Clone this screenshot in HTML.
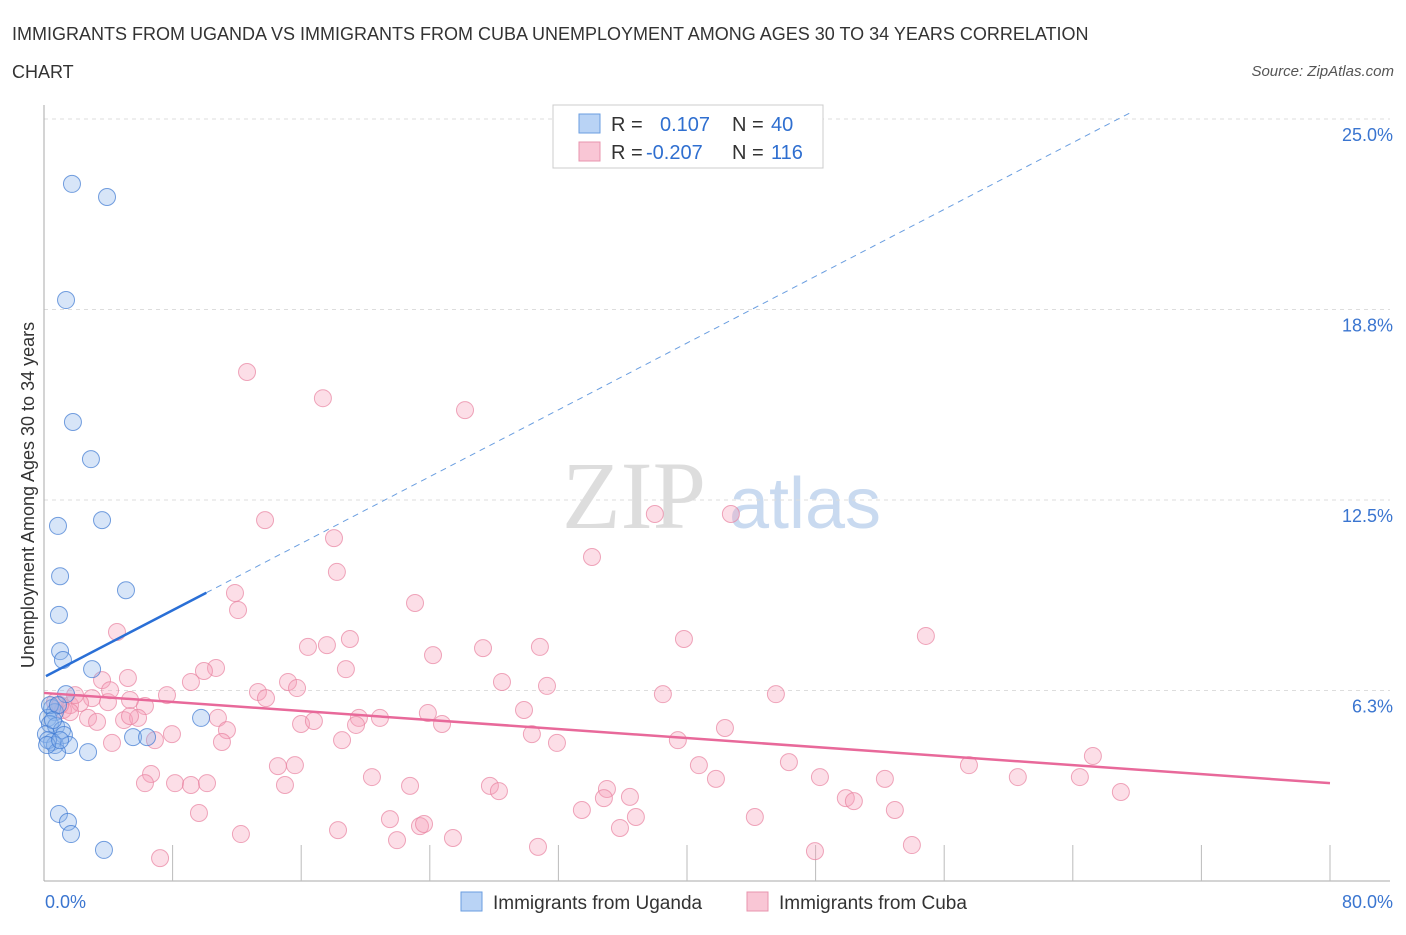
<!DOCTYPE html>
<html><head><meta charset="utf-8"><style>
body{margin:0;background:#fff;font-family:"Liberation Sans",sans-serif}
</style></head><body>
<svg id="chart" width="1406" height="930" font-family="Liberation Sans, sans-serif">
<text x="12" y="40" font-size="18" fill="#333">IMMIGRANTS FROM UGANDA VS IMMIGRANTS FROM CUBA UNEMPLOYMENT AMONG AGES 30 TO 34 YEARS CORRELATION</text>
<text x="12" y="78" font-size="18" fill="#333">CHART</text>
<text x="1394" y="76" font-size="15" fill="#555" font-style="italic" text-anchor="end">Source: ZipAtlas.com</text>
<text x="634" y="528" font-size="96" fill="#ddd" font-family="Liberation Serif, serif" text-anchor="middle">ZIP</text>
<text x="805" y="528" font-size="72" fill="#c9daf0" text-anchor="middle">atlas</text>
<text transform="translate(34,495) rotate(-90)" font-size="18" fill="#333" text-anchor="middle">Unemployment Among Ages 30 to 34 years</text>
<g id="grid"></g><g id="axes"></g><g id="pts"></g><g id="lines"></g>
<g>
<rect x="553" y="105" width="270" height="63" fill="#fff" stroke="#ccc"/>
<rect x="579" y="114" width="21" height="19" fill="#b9d3f5" stroke="#6a9ee0"/>
<rect x="579" y="142" width="21" height="19" fill="#f9c6d5" stroke="#e894ae"/>
<text y="131" font-size="20" fill="#333"><tspan x="611">R = </tspan><tspan x="660" fill="#2f6fd0">0.107</tspan><tspan x="732">N = </tspan><tspan x="771" fill="#2f6fd0">40</tspan></text>
<text y="159" font-size="20" fill="#333"><tspan x="611">R = </tspan><tspan x="646" fill="#2f6fd0">-0.207</tspan><tspan x="732">N = </tspan><tspan x="771" fill="#2f6fd0">116</tspan></text>
</g>
<g>
<rect x="461" y="892" width="21" height="19" fill="#b9d3f5" stroke="#6a9ee0"/>
<text x="493" y="909" font-size="19" fill="#333">Immigrants from Uganda</text>
<rect x="747" y="892" width="21" height="19" fill="#f9c6d5" stroke="#e894ae"/>
<text x="779" y="909" font-size="19" fill="#333">Immigrants from Cuba</text>
</g>
</svg>
<script>
const xTicks=[0,8,16,24,32,40,48,56,64,72,80];
const yTicks=[6.25,12.5,18.75,25];
const yTickLabels=["6.3%","12.5%","18.8%","25.0%"];
const xEndLabels=["0.0%","80.0%"];
const ugandaX=[1.74,3.92,1.37,1.80,2.92,0.87,3.61,1.00,5.10,0.93,1.00,1.18,2.99,1.37,9.77,0.50,0.68,0.25,0.37,0.75,1.12,0.12,1.24,5.54,6.41,0.50,0.68,1.56,0.25,0.81,2.74,0.93,1.49,1.68,3.73,0.37,0.87,0.56,0.19,1.00];
const ugandaY=[22.87,22.44,19.06,15.06,13.84,11.65,11.84,10.00,9.54,8.73,7.54,7.25,6.95,6.13,5.35,5.67,5.54,5.35,5.15,5.08,4.95,4.82,4.79,4.72,4.72,4.56,4.46,4.46,4.62,4.23,4.23,2.20,1.94,1.54,1.02,5.77,5.77,5.28,4.46,4.62];
const cubaX=[12.63,17.35,26.19,13.75,18.04,34.09,18.22,38.00,42.73,23.08,11.88,12.07,4.54,19.03,16.42,17.60,27.31,30.85,39.81,54.86,24.20,18.78,10.70,9.95,5.22,3.61,9.14,15.18,15.74,28.49,31.29,38.50,45.53,13.31,13.81,7.65,6.28,5.35,3.98,2.99,1.62,2.24,1.18,0.68,2.74,3.30,4.98,5.85,5.35,10.82,11.38,15.99,16.79,19.59,20.90,23.88,24.76,19.41,29.86,42.36,7.96,6.90,11.07,18.54,30.35,31.91,39.43,14.55,15.61,4.23,6.66,6.28,8.15,9.14,10.14,14.99,20.40,22.77,27.74,28.30,40.74,41.80,46.34,48.27,52.31,57.54,60.58,64.44,65.25,66.99,35.02,34.83,36.45,36.82,35.83,33.46,44.22,49.88,50.38,52.93,9.64,12.25,18.29,21.52,23.39,23.64,21.96,25.44,30.73,47.96,53.99,7.22,1.62,1.00,1.93,4.11];
const cubaY=[16.70,15.84,15.45,11.84,11.25,10.63,10.14,12.04,12.04,9.12,9.45,8.89,8.17,7.94,7.68,7.74,7.64,7.68,7.94,8.04,7.41,6.95,6.99,6.89,6.66,6.59,6.53,6.53,6.33,6.53,6.40,6.13,6.13,6.20,6.00,6.10,5.74,5.94,5.87,6.00,5.77,5.84,5.61,5.87,5.35,5.22,5.28,5.35,5.41,5.35,4.95,5.15,5.25,5.35,5.35,5.51,5.15,5.12,5.61,5.02,4.82,4.62,4.56,4.62,4.82,4.53,4.62,3.77,3.80,4.53,3.51,3.21,3.21,3.15,3.21,3.15,3.41,3.12,3.12,2.95,3.80,3.35,3.90,3.41,3.35,3.80,3.41,3.41,4.10,2.92,3.02,2.72,2.76,2.10,1.74,2.33,2.10,2.72,2.62,2.33,2.23,1.54,1.67,2.03,1.80,1.87,1.34,1.41,1.12,0.98,1.18,0.75,5.54,5.77,6.10,6.26];
const ugandaTrend=[6.69,0.274]; // intercept, slope
const cubaTrend=[6.17,-0.037];

const X0=44,X1=1330,Y0=881,Y1=119;
const sx=v=>X0+(v/80)*(X1-X0);
const sy=v=>Y0-(v/25)*(Y0-Y1);
const NS="http://www.w3.org/2000/svg";
function mk(parent,tag,attrs){const e=document.createElementNS(NS,tag);for(const k in attrs)e.setAttribute(k,attrs[k]);document.getElementById(parent).appendChild(e);return e;}

yTicks.forEach((t,i)=>{
  const g=mk('grid','line',{x1:X0,x2:X1+60,y1:sy(t),y2:sy(t),stroke:'#ddd','stroke-dasharray':'4,4'});
  
  
  const l=mk('axes','text',{x:1393,y:sy(t)+22,'font-size':18,fill:'#3a75d0','text-anchor':'end'});
  l.textContent=yTickLabels[i];
  
  
});
const ya=mk('axes','line',{x1:X0,x2:X0,y1:105,y2:Y0,stroke:'#aaa'});


const xa=mk('axes','line',{x1:X0,x2:X1+60,y1:Y0,y2:Y0,stroke:'#aaa'});


xTicks.slice(1).forEach(t=>{
  const tk=mk('axes','line',{x1:sx(t),x2:sx(t),y1:Y0-36,y2:Y0,stroke:'#bbb'});
  
  
});
[[0,'start',45],[80,'end',1393]].forEach((d,i)=>{
  const l=mk('axes','text',{x:d[2],y:908,'font-size':18,fill:'#3a75d0','text-anchor':d[1]});
  l.textContent=xEndLabels[i];
  
  
});
cubaX.forEach((x,i)=>{
  const c=mk('pts','circle',{cx:sx(x),cy:sy(cubaY[i]),r:8.5,fill:'rgba(245,160,185,0.35)',stroke:'rgba(232,130,160,0.7)','stroke-width':1});
  
  
});
ugandaX.forEach((x,i)=>{
  const c=mk('pts','circle',{cx:sx(x),cy:sy(ugandaY[i]),r:8.5,fill:'rgba(140,180,235,0.35)',stroke:'rgba(60,120,210,0.7)','stroke-width':1});
  
  
});
const ux1=10.1, ux2=(25.2-ugandaTrend[0])/ugandaTrend[1];
const ub=mk('lines','line',{x1:sx(0.12),y1:sy(ugandaTrend[0]+ugandaTrend[1]*0.12),x2:sx(ux1),y2:sy(ugandaTrend[0]+ugandaTrend[1]*ux1),stroke:'#2a6fd6','stroke-width':2.5});


const ud=mk('lines','line',{x1:sx(ux1),y1:sy(ugandaTrend[0]+ugandaTrend[1]*ux1),x2:sx(ux2),y2:sy(ugandaTrend[0]+ugandaTrend[1]*ux2),stroke:'#6a9ee0','stroke-width':1,'stroke-dasharray':'6,5'});


const cl=mk('lines','line',{x1:sx(0),y1:sy(cubaTrend[0]),x2:sx(80),y2:sy(cubaTrend[0]+cubaTrend[1]*80),stroke:'#e8699a','stroke-width':2.5});


</script>
</body></html>
